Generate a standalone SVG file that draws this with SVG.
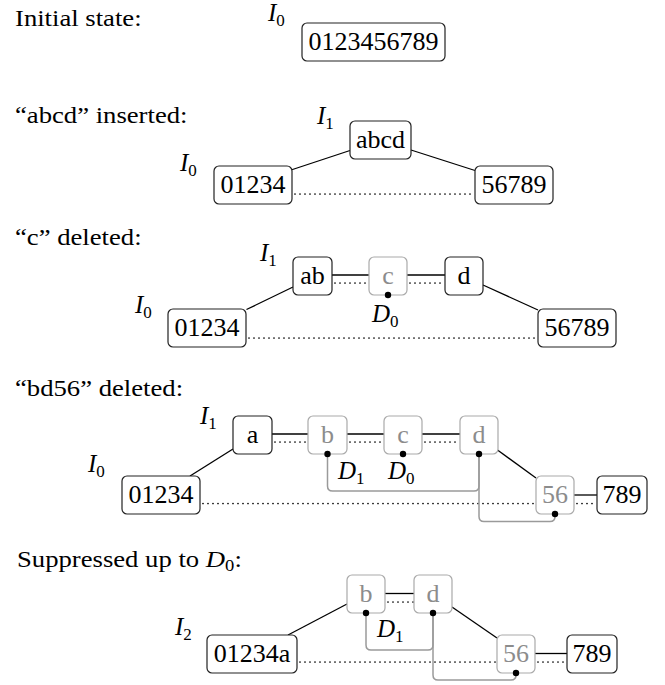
<svg xmlns="http://www.w3.org/2000/svg" width="665" height="685" viewBox="0 0 665 685">
<style>
.lbl{font-family:"Liberation Serif",serif;font-size:23px;fill:#000}
.bt{font-family:"Liberation Serif",serif;font-size:26px;text-anchor:middle;fill:#000}
.gt{fill:#8c8c8c}
.bb{fill:#fff;stroke:#222;stroke-width:1.2}
.gb{fill:#fff;stroke:#aaa;stroke-width:1.2}
.m{font-family:"Liberation Serif",serif;font-size:25px;font-style:italic;fill:#000}
.sub{font-size:17px;font-style:normal}
.sl{stroke:#000;stroke-width:1.3;fill:none}
.dl{stroke:#000;stroke-width:1.7;fill:none;stroke-dasharray:0 5;stroke-linecap:round}
.gp{stroke:#9a9a9a;stroke-width:1.5;fill:none}
.dot{fill:#000}
</style>

<!-- section labels -->
<g id="labels">
<text class="lbl" transform="translate(15,25.5) scale(1.16,1)">Initial state:</text>
<text class="lbl" transform="translate(15,122.5) scale(1.16,1)">“abcd” inserted:</text>
<text class="lbl" transform="translate(15,245) scale(1.16,1)">“c” deleted:</text>
<text class="lbl" transform="translate(15,396) scale(1.16,1)">“bd56” deleted:</text>
<text class="lbl" transform="translate(17,567) scale(1.16,1)">Suppressed up to <tspan font-style="italic">D</tspan><tspan font-size="16" dy="4">0</tspan><tspan dy="-4">:</tspan></text>
</g>

<!-- math labels -->
<g id="marks">
<text class="m" x="268" y="20.5">I<tspan class="sub" dy="5">0</tspan></text>
<text class="m" x="317" y="124">I<tspan class="sub" dy="5">1</tspan></text>
<text class="m" x="180" y="170.5">I<tspan class="sub" dy="5">0</tspan></text>
<text class="m" x="260" y="261">I<tspan class="sub" dy="5">1</tspan></text>
<text class="m" x="135" y="312.5">I<tspan class="sub" dy="5">0</tspan></text>
<text class="m" x="372" y="322">D<tspan class="sub" dy="5">0</tspan></text>
<text class="m" x="200" y="424">I<tspan class="sub" dy="5">1</tspan></text>
<text class="m" x="88" y="472">I<tspan class="sub" dy="5">0</tspan></text>
<text class="m" x="338" y="478.5">D<tspan class="sub" dy="5">1</tspan></text>
<text class="m" x="388" y="478.5">D<tspan class="sub" dy="5">0</tspan></text>
<text class="m" x="175" y="635">I<tspan class="sub" dy="5">2</tspan></text>
<text class="m" x="377" y="637">D<tspan class="sub" dy="5">1</tspan></text>
</g>

<!-- connectors -->
<g id="connectors">
<!-- section 2 -->
<line class="sl" x1="291" y1="170" x2="350" y2="150.5"/>
<line class="sl" x1="411" y1="150" x2="475" y2="170.5"/>
<line class="dl" x1="295" y1="194" x2="475" y2="194"/>
<!-- section 3 -->
<line class="sl" x1="246.5" y1="309.5" x2="293" y2="287"/>
<line class="sl" x1="332" y1="275" x2="369" y2="275"/>
<line class="sl" x1="407" y1="275" x2="445" y2="275"/>
<line class="sl" x1="483" y1="285" x2="538" y2="310"/>
<line class="dl" x1="335" y1="283" x2="369" y2="283"/>
<line class="dl" x1="410" y1="283" x2="445" y2="283"/>
<line class="dl" x1="249" y1="338" x2="538" y2="338"/>
<!-- section 4 -->
<line class="sl" x1="190" y1="476" x2="233" y2="449"/>
<line class="sl" x1="272" y1="434" x2="308" y2="434"/>
<line class="sl" x1="347" y1="434" x2="384" y2="434"/>
<line class="sl" x1="422" y1="434" x2="460" y2="434"/>
<line class="sl" x1="497.5" y1="450" x2="536" y2="478"/>
<line class="sl" x1="574" y1="495" x2="597" y2="495"/>
<line class="dl" x1="275" y1="442" x2="308" y2="442"/>
<line class="dl" x1="350" y1="442" x2="384" y2="442"/>
<line class="dl" x1="425" y1="442" x2="460" y2="442"/>
<line class="dl" x1="203" y1="503.5" x2="536" y2="503.5"/>
<line class="dl" x1="577" y1="503.5" x2="597" y2="503.5"/>
<path class="gp" d="M327.5,454 V486 Q327.5,491 332.5,491 H474 Q479,491 479,486 V454"/>
<path class="gp" d="M479,454 V516.5 Q479,521.5 484,521.5 H550 Q555,521.5 555,516.5 V514"/>
<!-- section 5 -->
<line class="sl" x1="288" y1="635" x2="347" y2="604"/>
<line class="sl" x1="385" y1="593.5" x2="414" y2="593.5"/>
<line class="sl" x1="452" y1="607" x2="497" y2="638"/>
<line class="sl" x1="535" y1="653.5" x2="567" y2="653.5"/>
<line class="dl" x1="388" y1="602" x2="414" y2="602"/>
<line class="dl" x1="300" y1="662" x2="497" y2="662"/>
<line class="dl" x1="538" y1="662" x2="567" y2="662"/>
<path class="gp" d="M366,613 V645 Q366,650 371,650 H428 Q433,650 433,645 V613"/>
<path class="gp" d="M433,613 V675 Q433,680 438,680 H511 Q516,680 516,675 V673"/>
</g>

<!-- section 1 -->
<g id="s1-all"><rect class="bb" x="302" y="23" width="143" height="38" rx="5"/><text class="bt" x="373.5" y="50">0123456789</text></g>

<!-- section 2 -->
<g id="s2-abcd"><rect class="bb" x="350" y="121" width="61" height="38" rx="5"/><text class="bt" x="380.5" y="148">abcd</text></g>
<g id="s2-01234"><rect class="bb" x="214" y="166" width="78" height="38" rx="5"/><text class="bt" x="253" y="193">01234</text></g>
<g id="s2-56789"><rect class="bb" x="475" y="166" width="78" height="38" rx="5"/><text class="bt" x="514" y="193">56789</text></g>

<!-- section 3 -->
<g id="s3-ab"><rect class="bb" x="293" y="257" width="39" height="38" rx="5"/><text class="bt" x="312.5" y="284">ab</text></g>
<g id="s3-c"><rect class="gb" x="369" y="257" width="38" height="38" rx="5"/><text class="bt gt" x="388" y="284">c</text></g>
<g id="s3-d"><rect class="bb" x="445" y="257" width="38" height="38" rx="5"/><text class="bt" x="464" y="284">d</text></g>
<g id="s3-01234"><rect class="bb" x="168" y="309" width="78" height="38" rx="5"/><text class="bt" x="207" y="336">01234</text></g>
<g id="s3-56789"><rect class="bb" x="538" y="309" width="78" height="38" rx="5"/><text class="bt" x="577" y="336">56789</text></g>
<circle class="dot" cx="388" cy="295" r="3.2"/>

<!-- section 4 -->
<g id="s4-a"><rect class="bb" x="233" y="416" width="39" height="38" rx="5"/><text class="bt" x="252.5" y="443">a</text></g>
<g id="s4-b"><rect class="gb" x="308" y="416" width="39" height="38" rx="5"/><text class="bt gt" x="327.5" y="443">b</text></g>
<g id="s4-c"><rect class="gb" x="384" y="416" width="38" height="38" rx="5"/><text class="bt gt" x="403" y="443">c</text></g>
<g id="s4-d"><rect class="gb" x="460" y="416" width="38" height="38" rx="5"/><text class="bt gt" x="479" y="443">d</text></g>
<g id="s4-01234"><rect class="bb" x="122" y="476" width="78" height="38" rx="5"/><text class="bt" x="161" y="503">01234</text></g>
<g id="s4-56"><rect class="gb" x="536" y="476" width="38" height="38" rx="5"/><text class="bt gt" x="555" y="503">56</text></g>
<g id="s4-789"><rect class="bb" x="597" y="476" width="50" height="38" rx="5"/><text class="bt" x="622" y="503">789</text></g>
<circle class="dot" cx="327.5" cy="454" r="3.2"/>
<circle class="dot" cx="403" cy="454" r="3.2"/>
<circle class="dot" cx="479" cy="454" r="3.2"/>
<circle class="dot" cx="555" cy="514" r="3.2"/>

<!-- section 5 -->
<g id="s5-b"><rect class="gb" x="347" y="575" width="38" height="38" rx="5"/><text class="bt gt" x="366" y="602">b</text></g>
<g id="s5-d"><rect class="gb" x="414" y="575" width="38" height="38" rx="5"/><text class="bt gt" x="433" y="602">d</text></g>
<g id="s5-01234a"><rect class="bb" x="207" y="635" width="90" height="38" rx="5"/><text class="bt" x="252" y="662">01234a</text></g>
<g id="s5-56"><rect class="gb" x="497" y="635" width="38" height="38" rx="5"/><text class="bt gt" x="516" y="662">56</text></g>
<g id="s5-789"><rect class="bb" x="567" y="635" width="50" height="38" rx="5"/><text class="bt" x="592" y="662">789</text></g>
<circle class="dot" cx="366" cy="613" r="3.2"/>
<circle class="dot" cx="433" cy="613" r="3.2"/>
<circle class="dot" cx="516" cy="673" r="3.2"/>
</svg>
